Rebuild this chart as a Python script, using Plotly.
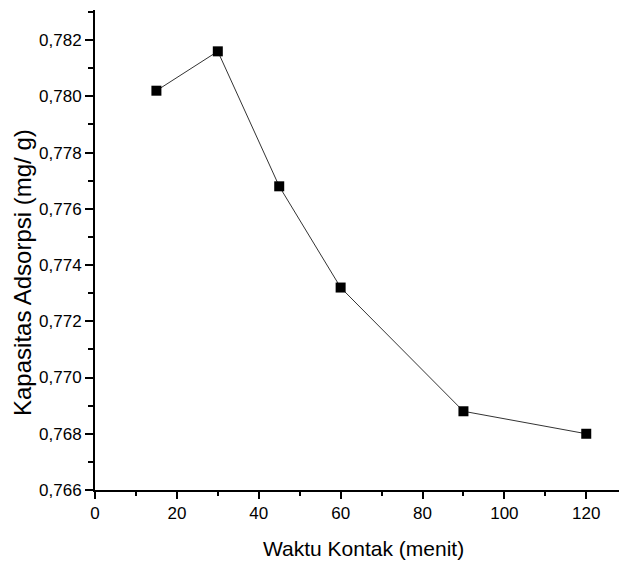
import plotly.graph_objects as go

waktu = [15, 30, 45, 60, 90, 120]
kapasitas = [0.7802, 0.7816, 0.7768, 0.7732, 0.7688, 0.7680]
x_ticks = [0, 20, 40, 60, 80, 100, 120]
y_ticks = [0.766, 0.768, 0.770, 0.772, 0.774, 0.776, 0.778, 0.780, 0.782]

font_fam = "Liberation Sans, Arial"

fig = go.Figure()
fig.add_trace(go.Scatter(
    x=waktu, y=kapasitas, mode="lines+markers",
    line=dict(color="#333333", width=1),
    marker=dict(symbol="square", size=10, color="black"),
    showlegend=False,
))

fig.update_layout(
    width=619, height=564,
    margin=dict(l=95, r=0, t=10, b=74),
    plot_bgcolor="white", paper_bgcolor="white",
    separators=", ",
    font=dict(family=font_fam, color="black"),
)
fig.update_xaxes(
    range=[0, 128], tickvals=x_ticks, ticktext=[str(v) for v in x_ticks],
    showgrid=False, zeroline=False, showline=True, linecolor="black", linewidth=2,
    ticks="outside", ticklen=7, tickwidth=2, tickcolor="black",
    minor=dict(dtick=10, tick0=0, ticks="outside", ticklen=4, tickwidth=2, tickcolor="black", showgrid=False),
    tickfont=dict(size=17, family=font_fam),
)
fig.update_yaxes(
    range=[0.766, 0.78307], tickvals=y_ticks, tickformat=".3f",
    showgrid=False, zeroline=False, showline=True, linecolor="black", linewidth=2,
    ticks="outside", ticklen=8, tickwidth=2, tickcolor="black",
    minor=dict(dtick=0.001, tick0=0.766, ticks="outside", ticklen=5, tickwidth=2, tickcolor="black", showgrid=False),
    tickfont=dict(size=17, family=font_fam),
)
fig.add_annotation(
    text="Waktu Kontak (menit)", xref="paper", yref="paper",
    x=(363 - 95) / 524, y=-(548 - 490) / 480, xanchor="center", yanchor="middle",
    showarrow=False, font=dict(size=21, family=font_fam),
)
fig.add_annotation(
    text="Kapasitas Adsorpsi (mg/ g)", xref="paper", yref="paper",
    x=-(95 - 22) / 524, y=(490 - 273) / 480, xanchor="center", yanchor="middle",
    textangle=-90, showarrow=False, font=dict(size=24, family=font_fam),
)

fig.write_html("out.html")
